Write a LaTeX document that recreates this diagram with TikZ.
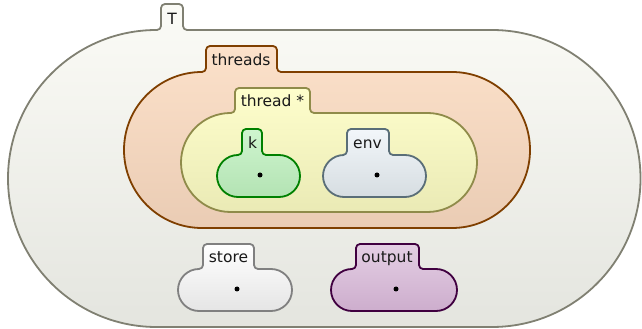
\documentclass[tikz,border=0pt]{standalone}
\usepackage{fontspec}
\setmainfont{DejaVu Sans}
% cell colours: stroke, top of fill, bottom of fill
\definecolor{Tline}{HTML}{808072}
\definecolor{Ttop}{HTML}{FBFBF6}
\definecolor{Tbot}{HTML}{E4E5DF}
\definecolor{thrsline}{HTML}{7F3F00}
\definecolor{thrstop}{HTML}{FCE1CA}
\definecolor{thrsbot}{HTML}{EACCB4}
\definecolor{thrline}{HTML}{8F8B4A}
\definecolor{thrtop}{HTML}{FEFECC}
\definecolor{thrbot}{HTML}{EAEAB5}
\definecolor{kline}{HTML}{008000}
\definecolor{ktop}{HTML}{CFF5CF}
\definecolor{kbot}{HTML}{B3E3B3}
\definecolor{envline}{HTML}{5A6E78}
\definecolor{envtop}{HTML}{F2F6FA}
\definecolor{envbot}{HTML}{D6DDE1}
\definecolor{stline}{HTML}{808080}
\definecolor{sttop}{HTML}{FFFFFF}
\definecolor{stbot}{HTML}{E5E5E5}
\definecolor{outline}{HTML}{400040}
\definecolor{outtop}{HTML}{E4CFE4}
\definecolor{outbot}{HTML}{CDADCD}
\tikzset{
  cellbox/.style n args={3}{draw=#1, top color=#2, bottom color=#3, line width=1.8pt, line join=round},
  lbl/.style={font=\fontsize{15.5}{18}\selectfont, anchor=base, inner sep=0pt, text=black!90},
  dotmark/.style={circle, fill=black, inner sep=0pt, minimum size=5pt},
}
% a configuration cell: tab on top of a stadium-shaped body
% #1 style, #2 x left, #3 x right, #4 body top, #5 body bottom,
% #6 tab left, #7 tab right, #8 tab top (all measured from the top edge)
\newcommand\kcell[8]{%
  \pgfmathsetmacro\cT{329-#4}%
  \pgfmathsetmacro\cB{329-#5}%
  \pgfmathsetmacro\cTT{329-#8}%
  \pgfmathsetmacro\cR{(\cT-\cB)/2}%
  \path[#1] (#6+4,\cTT) -- (#7-4,\cTT)
    arc[start angle=90, end angle=0, radius=4pt] -- (#7,\cT+4)
    arc[start angle=180, end angle=270, radius=4pt] -- (#3-\cR,\cT)
    arc[start angle=90, end angle=-90, radius=\cR pt] -- (#2+\cR,\cB)
    arc[start angle=270, end angle=90, radius=\cR pt] -- (#6-4,\cT)
    arc[start angle=270, end angle=360, radius=4pt] -- (#6,\cTT-4)
    arc[start angle=180, end angle=90, radius=4pt] -- cycle;}
\begin{document}
\begin{tikzpicture}[x=1pt, y=1pt]
  \useasboundingbox (0,0) rectangle (642,329);
  \kcell{cellbox={Tline}{Ttop}{Tbot}}{8}{640.5}{30}{327}{161}{183}{4}
  \kcell{cellbox={thrsline}{thrstop}{thrsbot}}{124}{530}{72}{228}{206}{277}{46}
  \kcell{cellbox={thrline}{thrtop}{thrbot}}{181}{477}{113}{212}{235}{310}{88}
  \kcell{cellbox={kline}{ktop}{kbot}}{217}{300}{155}{197}{242}{262}{129}
  \kcell{cellbox={envline}{envtop}{envbot}}{323}{426}{155}{197}{347}{389}{129}
  \kcell{cellbox={stline}{sttop}{stbot}}{178}{292}{269}{311}{203}{254}{244}
  \kcell{cellbox={outline}{outtop}{outbot}}{331}{457}{269}{311}{356}{419}{244}

  \node[lbl] (T) at (172,304.7) {T};
  \node[lbl] (threads) at (241,263) {threads};
  \node[lbl] (thread) at (272.5,222) {thread *};
  \node[lbl] (k) at (252.5,180) {k};
  \node[lbl] (env) at (367.5,180) {env};
  \node[lbl] (store) at (228.5,66) {store};
  \node[lbl] (output) at (387,66) {output};

  \node[dotmark] (kdot) at (260,154) {};
  \node[dotmark] (envdot) at (377,154) {};
  \node[dotmark] (storedot) at (237,40) {};
  \node[dotmark] (outputdot) at (396,40) {};
\end{tikzpicture}
\end{document}
